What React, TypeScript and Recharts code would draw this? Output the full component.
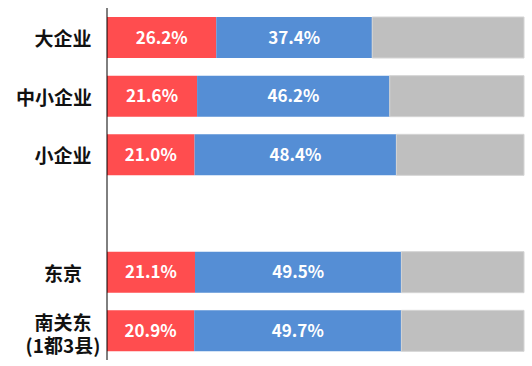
import React from 'react';
import { Bar, BarChart, LabelList, XAxis, YAxis } from 'recharts';

const categories = ['大企业', '中小企业', '小企业', '', '东京', '南关东\n(1都3县)'];
const redValues = [26.2, 21.6, 21.0, null, 21.1, 20.9];
const blueValues = [37.4, 46.2, 48.4, null, 49.5, 49.7];
const grayValues = [36.4, 32.2, 30.6, null, 29.4, 29.4];

const data = categories.map((name, i) => ({
  name,
  red: redValues[i],
  blue: blueValues[i],
  gray: grayValues[i],
}));

const FONT = '"Noto Sans CJK SC", "Noto Sans", sans-serif';

function CategoryTick(props: any) {
  const { y, payload } = props;
  const lines = String(payload.value).split('\n').filter((l) => l.length > 0);
  if (!lines.length) return null;
  const size = 19;
  const lineGap = 23;
  const startY = y - ((lines.length - 1) * lineGap) / 2 + (lines.length > 1 ? 2 : 0);
  return (
    <g>
      {lines.map((line, i) => {
        // only full-width glyphs count toward the clamp
        const cjk = line.replace(/[\x00-\x7f]/g, '').length;
        const cx = Math.min(63, 92 - (cjk * size) / 2);
        return (
          <text
            key={i}
            x={cx}
            y={startY + i * lineGap}
            textAnchor="middle"
            dominantBaseline="central"
            fontFamily={FONT}
            fontWeight={700}
            fontSize={size}
            fill="#111"
          >
            {line}
          </text>
        );
      })}
    </g>
  );
}

const fmt = (v: any) => (v == null ? '' : `${Number(v).toFixed(1)}%`);

export default function App() {
  return (
    <div style={{ position: 'absolute', left: 0, top: 0, background: '#fff' }}>
      <BarChart
        width={532}
        height={366}
        data={data}
        layout="vertical"
        margin={{ top: 8, right: 8, bottom: 6, left: 0 }}
        barSize={41}
      >
        <XAxis type="number" domain={[0, 100]} hide />
        <YAxis
          type="category"
          dataKey="name"
          width={107}
          axisLine={{ stroke: '#000', strokeWidth: 1 }}
          tickLine={false}
          tick={<CategoryTick />}
          interval={0}
        />
        <Bar dataKey="red" stackId="a" fill="#FF4D4F" isAnimationActive={false}>
          <LabelList
            dataKey="red"
            position="center"
            formatter={fmt}
            fill="#fff"
            fontFamily={FONT}
            fontWeight={700}
            fontSize={17}
          />
        </Bar>
        <Bar dataKey="blue" stackId="a" fill="#558ED5" isAnimationActive={false}>
          <LabelList
            dataKey="blue"
            position="center"
            formatter={fmt}
            fill="#fff"
            fontFamily={FONT}
            fontWeight={700}
            fontSize={17}
          />
        </Bar>
        <Bar
          dataKey="gray"
          stackId="a"
          fill="#BFBFBF"
          stroke="#D4D4D4"
          strokeWidth={1}
          isAnimationActive={false}
        />
      </BarChart>
    </div>
  );
}
